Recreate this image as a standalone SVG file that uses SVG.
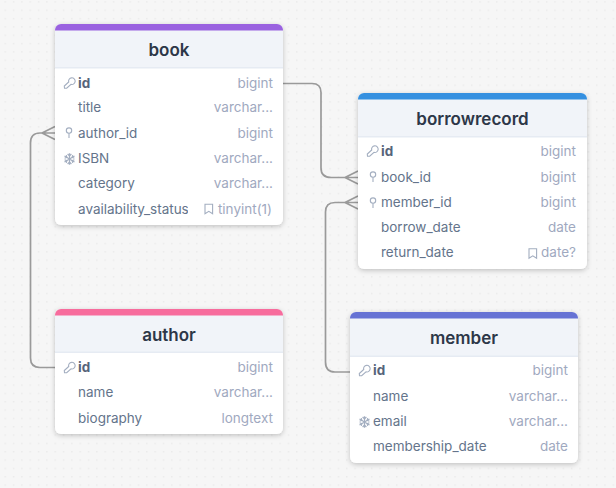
<svg xmlns="http://www.w3.org/2000/svg" width="616" height="488" viewBox="0 0 616 488">
<style>
text{font-family:Inter,"Liberation Sans",sans-serif}
.t{font-size:17px;font-weight:600;fill:#2d3748;text-anchor:middle}
.f{font-size:13.5px;fill:#64748b}
.k{font-size:13.5px;font-weight:700;fill:#56647a}
.y{font-size:13.5px;fill:#9fa9c0;text-anchor:end}
.c{fill:none;stroke:#9a9a9a;stroke-width:1.7}
.i{fill:none;stroke:#a3aec0;stroke-width:1.1}
.h{fill:#f1f4f9}
.l{fill:#e6ebf3}
.card{fill:#fff;filter:url(#s)}
</style>
<defs>
<pattern id="d" width="8.33" height="8.33" patternUnits="userSpaceOnUse" x="0.8" y="-2.5"><rect x="4" y="4" width="1" height="1" fill="#dcdcdc"/></pattern>
<filter id="s" x="-10%" y="-10%" width="120%" height="120%"><feDropShadow dx="0" dy="1.5" stdDeviation="2.5" flood-color="#000" flood-opacity=".22"/></filter>
<clipPath id="cl"><rect x="70" y="200" width="118" height="20"/></clipPath>
<g id="key"><path d="M.5 5.200 .3 3 4.700 -1a3.300 3.300 0 1 1 2.300 2.300L2.700 5.200Z" class="i"/></g>
<g id="fk"><circle cx="5" cy="-2.400" r="2.700" class="i"/><path d="M5 .3V5" class="i"/></g>
<g id="uq" stroke="#a3aec0" stroke-width="1.200" fill="none"><path d="M5.500 -5.700V5.700M.5 -2.900 10.500 2.900M.5 2.900 10.500 -2.900"/><path d="M3.600 -5 5.500 -3.200 7.400 -5M3.600 5 5.500 3.200 7.400 5M.6 -.8 2.800 -1.600 2.300 -3.900M10.400 .8 8.200 1.600 8.700 3.900M.6 .8 2.800 1.600 2.300 3.900M10.400 -.8 8.200 -1.600 8.700 -3.900"/></g>
<path id="nt" d="M0 -4.800H7.600V4.800L3.800 2.400 0 4.800Z" class="i"/>
</defs>
<rect width="616" height="488" fill="#f6f6f6"/>
<rect width="616" height="488" fill="url(#d)"/>
<g id="connectors">
<path class="c" d="M283 83.500H312Q321 83.500 321 92.500V168Q321 177.500 331 177.500H358M345 177.500 358 171M345 177.500 358 184"/>
<path class="c" d="M350 372H335Q325.500 372 325.500 362V212Q325.500 202.500 335 202.500H358M345 202.500 358 196M345 202.500 358 209"/>
<path class="c" d="M55 367.500H40Q30.500 367.500 30.500 358V143Q30.500 133 40 133H55M42 133 55 126.500M42 133 55 139.500"/>
</g>
<g id="book">
<rect class="card" x="55" y="24" width="228" height="201" rx="6"/>
<path d="M55 30a6 6 0 0 1 6-6H277a6 6 0 0 1 6 6V68H55Z" class="h"/>
<rect class="l" x="55" y="67" width="228" height="1.500"/>
<path d="M55 30.500V30a6 6 0 0 1 6-6H277a6 6 0 0 1 6 6v.5Z" fill="#9a62e0"/>
<text class="t" x="169" y="56">book</text>
<use href="#key" x="64" y="83"/><text class="k" x="78" y="87.500">id</text><text class="y" x="273" y="87.500">bigint</text>
<text class="f" x="78" y="112">title</text><text class="y" x="273" y="112">varchar...</text>
<use href="#fk" x="64" y="133"/><text class="f" x="78" y="138">author_id</text><text class="y" x="273" y="138">bigint</text>
<use href="#uq" x="64" y="159"/><text class="f" x="78" y="163">ISBN</text><text class="y" x="273" y="163">varchar...</text>
<text class="f" x="78" y="188">category</text><text class="y" x="273" y="188">varchar...</text>
<text class="f" x="78" y="214" clip-path="url(#cl)">availability_status</text><use href="#nt" x="205" y="209"/><text class="y" x="272" y="214">tinyint(1)</text>
</g>
<g id="borrowrecord">
<rect class="card" x="358" y="93" width="229" height="176" rx="6"/>
<path d="M358 99a6 6 0 0 1 6-6H581a6 6 0 0 1 6 6V137H358Z" class="h"/>
<rect class="l" x="358" y="136" width="229" height="1.500"/>
<path d="M358 99.500V99a6 6 0 0 1 6-6H581a6 6 0 0 1 6 6v.5Z" fill="#3590e0"/>
<text class="t" x="472.500" y="125">borrowrecord</text>
<use href="#key" x="367" y="151"/><text class="k" x="381" y="156">id</text><text class="y" x="576" y="156">bigint</text>
<use href="#fk" x="368" y="177"/><text class="f" x="381" y="182">book_id</text><text class="y" x="576" y="182">bigint</text>
<use href="#fk" x="368" y="203"/><text class="f" x="381" y="207">member_id</text><text class="y" x="576" y="207">bigint</text>
<text class="f" x="381" y="232">borrow_date</text><text class="y" x="576" y="232">date</text>
<use href="#nt" x="529" y="253.500"/><text class="f" x="381" y="257">return_date</text><text class="y" x="576" y="257">date?</text>
</g>
<g id="author">
<rect class="card" x="55" y="309" width="228" height="125" rx="6"/>
<path d="M55 315a6 6 0 0 1 6-6H277a6 6 0 0 1 6 6V352H55Z" class="h"/>
<rect class="l" x="55" y="351.500" width="228" height="1.500"/>
<path d="M55 315.500V315a6 6 0 0 1 6-6H277a6 6 0 0 1 6 6v.5Z" fill="#f76c9d"/>
<text class="t" x="169" y="341">author</text>
<use href="#key" x="64" y="367.500"/><text class="k" x="78" y="372">id</text><text class="y" x="273" y="372">bigint</text>
<text class="f" x="78" y="397">name</text><text class="y" x="273" y="397">varchar...</text>
<text class="f" x="78" y="423">biography</text><text class="y" x="273" y="423">longtext</text>
</g>
<g id="member">
<rect class="card" x="350" y="312" width="228" height="151" rx="6"/>
<path d="M350 318a6 6 0 0 1 6-6H572a6 6 0 0 1 6 6V356H350Z" class="h"/>
<rect class="l" x="350" y="355.500" width="228" height="1.500"/>
<path d="M350 318.500V318a6 6 0 0 1 6-6H572a6 6 0 0 1 6 6v.5Z" fill="#6672d4"/>
<text class="t" x="464" y="344">member</text>
<use href="#key" x="359" y="370.500"/><text class="k" x="373" y="375">id</text><text class="y" x="568" y="375">bigint</text>
<text class="f" x="373" y="401">name</text><text class="y" x="568" y="401">varchar...</text>
<use href="#uq" x="359" y="422"/><text class="f" x="373" y="426">email</text><text class="y" x="568" y="426">varchar...</text>
<text class="f" x="373" y="451">membership_date</text><text class="y" x="568" y="451">date</text>
</g>
</svg>
